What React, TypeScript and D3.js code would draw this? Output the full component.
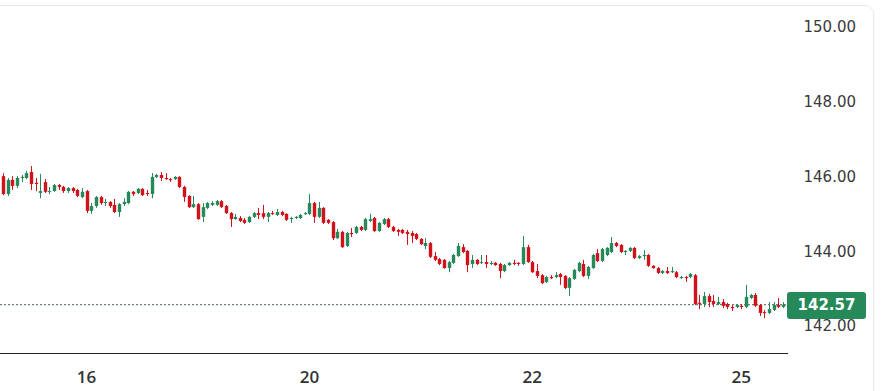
import React, { useRef, useEffect } from "react";
import * as d3 from "d3";

// OHLC, one entry per candle
const opens = [
  146.01, 145.53, 145.91, 145.75, 145.96, 145.96, 146.12, 145.83, 145.56, 145.85,
  145.59, 145.61, 145.77, 145.72, 145.61, 145.69, 145.64, 145.45, 145.61, 145.08,
  145.21, 145.45, 145.29, 145.32, 145.24, 145.05, 145.26, 145.29, 145.59, 145.56,
  145.67, 145.56, 145.53, 145.99, 146.04, 145.96, 145.93, 145.93, 145.99, 145.72,
  145.48, 145.18, 145.26, 144.92, 145.16, 145.24, 145.24, 145.34, 145.21, 145.02,
  144.86, 144.89, 144.84, 144.78, 144.92, 145.02, 145.02, 144.92, 145.02, 144.97,
  145.05, 145.00, 144.86, 144.89, 144.89, 145.00, 145.00, 145.29, 144.92, 145.16,
  144.84, 144.78, 144.35, 144.52, 144.14, 144.49, 144.49, 144.65, 144.57, 144.81,
  144.89, 144.54, 144.73, 144.86, 144.65, 144.57, 144.57, 144.52, 144.49, 144.46,
  144.33, 144.14, 144.22, 143.87, 143.79, 143.77, 143.55, 143.69, 143.87, 144.11,
  144.01, 143.66, 143.77, 143.69, 143.71, 143.66, 143.69, 143.66, 143.47, 143.63,
  143.69, 143.69, 143.66, 144.11, 143.71, 143.47, 143.36, 143.18, 143.31, 143.31,
  143.39, 143.34, 143.02, 143.26, 143.47, 143.66, 143.34, 143.55, 143.95, 143.74,
  143.90, 143.98, 144.22, 144.17, 143.98, 144.01, 144.09, 143.82, 143.87, 143.90,
  143.61, 143.55, 143.42, 143.47, 143.44, 143.44, 143.28, 143.31, 143.31, 143.36,
  142.62, 142.59, 142.80, 142.67, 142.59, 142.64, 142.59, 142.51, 142.51, 142.54,
  142.51, 142.75, 142.83, 142.56, 142.37, 142.35, 142.43, 142.56, 142.51,
];
const highs = [
  146.09, 145.96, 146.01, 146.01, 146.04, 146.15, 146.28, 145.96, 146.07, 145.93,
  145.72, 145.80, 145.80, 145.75, 145.72, 145.72, 145.67, 145.69, 145.64, 145.29,
  145.48, 145.48, 145.40, 145.34, 145.40, 145.29, 145.42, 145.61, 145.61, 145.69,
  145.69, 145.64, 146.09, 146.07, 146.12, 146.09, 145.96, 146.01, 146.01, 145.75,
  145.50, 145.48, 145.29, 145.29, 145.32, 145.34, 145.37, 145.37, 145.24, 145.05,
  145.00, 144.94, 144.89, 144.94, 145.05, 145.16, 145.24, 145.05, 145.08, 145.13,
  145.08, 145.02, 144.92, 144.94, 145.00, 145.05, 145.53, 145.32, 145.32, 145.18,
  144.86, 144.81, 144.60, 144.54, 144.52, 144.62, 144.68, 144.68, 144.89, 145.00,
  144.92, 144.78, 144.89, 144.89, 144.68, 144.60, 144.60, 144.57, 144.54, 144.49,
  144.35, 144.35, 144.25, 143.98, 143.82, 143.79, 143.74, 143.93, 144.22, 144.19,
  144.03, 143.90, 143.79, 143.90, 143.90, 143.74, 143.71, 143.69, 143.66, 143.71,
  143.77, 143.71, 144.41, 144.17, 143.74, 143.66, 143.39, 143.34, 143.36, 143.44,
  143.42, 143.36, 143.31, 143.53, 143.71, 143.77, 143.61, 143.93, 144.06, 144.09,
  144.11, 144.38, 144.25, 144.19, 144.03, 144.11, 144.11, 143.90, 144.03, 143.93,
  143.63, 143.58, 143.50, 143.58, 143.58, 143.47, 143.34, 143.34, 143.42, 143.39,
  142.83, 142.91, 142.86, 142.83, 142.78, 142.72, 142.62, 142.56, 142.59, 142.59,
  143.10, 142.86, 142.88, 142.59, 142.43, 142.64, 142.64, 142.75, 142.64,
];
const lows = [
  145.50, 145.48, 145.64, 145.69, 145.85, 145.93, 145.64, 145.61, 145.42, 145.56,
  145.53, 145.59, 145.64, 145.56, 145.56, 145.56, 145.45, 145.42, 145.02, 145.00,
  145.16, 145.24, 145.21, 145.16, 145.02, 144.92, 145.21, 145.26, 145.48, 145.53,
  145.48, 145.48, 145.42, 145.96, 145.88, 145.91, 145.85, 145.91, 145.69, 145.32,
  145.16, 145.16, 144.84, 144.78, 145.13, 145.21, 145.21, 145.16, 145.00, 144.65,
  144.84, 144.78, 144.73, 144.76, 144.89, 144.86, 144.86, 144.78, 144.97, 144.94,
  144.94, 144.81, 144.76, 144.86, 144.86, 144.97, 144.97, 144.76, 144.89, 144.73,
  144.73, 144.30, 144.33, 144.09, 144.11, 144.38, 144.46, 144.54, 144.54, 144.78,
  144.52, 144.52, 144.70, 144.62, 144.52, 144.41, 144.46, 144.17, 144.22, 144.30,
  144.17, 144.06, 143.82, 143.74, 143.63, 143.53, 143.44, 143.66, 143.85, 143.95,
  143.44, 143.55, 143.63, 143.66, 143.55, 143.63, 143.61, 143.28, 143.44, 143.61,
  143.63, 143.61, 143.63, 143.69, 143.42, 143.28, 143.12, 143.15, 143.26, 143.28,
  143.10, 142.99, 142.80, 143.23, 143.44, 143.31, 143.26, 143.53, 143.71, 143.71,
  143.87, 143.95, 144.11, 143.95, 143.90, 143.98, 143.79, 143.79, 143.77, 143.58,
  143.53, 143.39, 143.39, 143.39, 143.42, 143.28, 143.26, 143.18, 143.28, 142.56,
  142.45, 142.51, 142.51, 142.51, 142.56, 142.48, 142.45, 142.40, 142.48, 142.45,
  142.48, 142.72, 142.51, 142.27, 142.21, 142.32, 142.40, 142.48, 142.48,
];
const closes = [
  145.53, 145.91, 145.75, 145.96, 145.99, 146.09, 145.80, 145.80, 145.61, 145.59,
  145.61, 145.77, 145.72, 145.61, 145.69, 145.61, 145.48, 145.59, 145.08, 145.21,
  145.45, 145.29, 145.32, 145.21, 145.05, 145.26, 145.32, 145.59, 145.53, 145.67,
  145.50, 145.53, 145.99, 146.04, 145.96, 145.93, 145.91, 145.99, 145.72, 145.45,
  145.18, 145.26, 144.86, 145.18, 145.29, 145.29, 145.34, 145.18, 145.02, 144.86,
  144.92, 144.81, 144.76, 144.92, 145.02, 144.97, 144.92, 145.02, 145.00, 145.05,
  144.97, 144.84, 144.89, 144.92, 144.97, 145.02, 145.29, 144.92, 145.16, 144.76,
  144.76, 144.35, 144.52, 144.11, 144.49, 144.46, 144.65, 144.57, 144.86, 144.86,
  144.54, 144.76, 144.86, 144.65, 144.54, 144.52, 144.49, 144.46, 144.41, 144.33,
  144.19, 144.22, 143.85, 143.77, 143.66, 143.55, 143.71, 143.90, 144.14, 143.98,
  143.63, 143.77, 143.66, 143.71, 143.66, 143.69, 143.63, 143.47, 143.63, 143.69,
  143.66, 143.66, 144.11, 143.71, 143.44, 143.34, 143.15, 143.31, 143.28, 143.36,
  143.31, 143.02, 143.28, 143.50, 143.69, 143.34, 143.58, 143.90, 143.74, 144.06,
  144.09, 144.22, 144.14, 143.98, 144.01, 144.09, 143.82, 143.87, 143.90, 143.61,
  143.55, 143.42, 143.47, 143.42, 143.47, 143.31, 143.31, 143.28, 143.39, 142.59,
  142.59, 142.80, 142.64, 142.59, 142.64, 142.54, 142.51, 142.48, 142.56, 142.51,
  142.78, 142.83, 142.54, 142.35, 142.35, 142.45, 142.56, 142.51, 142.57,
];

const yTicks = [142, 144, 146, 148, 150];
const xTickIndex = [18, 66, 114, 159];
const xTickLabels = ["16", "20", "22", "25"];
const lastPrice = 142.57;

const W = 883, H = 391;
const UP = "#26895a", DOWN = "#d1121b";

function Chart() {
  const ref = useRef(null);
  useEffect(() => {
    const svg = d3.select(ref.current);
    svg.selectAll("*").remove();

    const candles = opens.map((o, i) => ({ i, o, h: highs[i], l: lows[i], c: closes[i] }));

    const x = d3.scaleLinear().domain([0, candles.length - 1]).range([3, 783]);
    const y = d3.scaleLinear().domain([142, 150]).range([326, 27]);
    const bw = 3.4;

    // card border
    svg.append("path")
      .attr("d", `M0,5.5 H865 A8,8 0 0 1 873.5,13.5 V${H}`)
      .attr("fill", "none")
      .attr("stroke", "#e8e8e8");

    // last price line
    svg.append("line")
      .attr("x1", 0).attr("x2", 787)
      .attr("y1", y(lastPrice)).attr("y2", y(lastPrice))
      .attr("stroke", "#3b6b55")
      .attr("stroke-dasharray", "2,2");

    const g = svg.append("g").selectAll("g").data(candles).join("g");
    g.append("line")
      .attr("x1", (d) => Math.round(x(d.i)) + 0.5)
      .attr("x2", (d) => Math.round(x(d.i)) + 0.5)
      .attr("y1", (d) => y(d.h))
      .attr("y2", (d) => y(d.l))
      .attr("stroke", (d) => (d.c >= d.o ? UP : DOWN));
    g.append("rect")
      .attr("x", (d) => Math.round(x(d.i)) + 0.5 - bw / 2)
      .attr("width", bw)
      .attr("y", (d) => y(Math.max(d.o, d.c)))
      .attr("height", (d) => Math.max(1, Math.abs(y(d.o) - y(d.c))))
      .attr("fill", (d) => (d.c >= d.o ? UP : DOWN));

    // x axis
    svg.append("line")
      .attr("x1", 0).attr("x2", 788)
      .attr("y1", 353.5).attr("y2", 353.5)
      .attr("stroke", "#222");
    svg.append("g").selectAll("text").data(xTickIndex).join("text")
      .attr("x", (d) => x(d))
      .attr("y", 383)
      .attr("text-anchor", "middle")
      .attr("font-family", "'Open Sans', 'DejaVu Sans'")
      .attr("font-weight", 600)
      .attr("font-size", 17)
      .attr("fill", "#333")
      .text((d, i) => xTickLabels[i]);

    // y axis labels
    svg.append("g").selectAll("text").data(yTicks).join("text")
      .attr("x", 856)
      .attr("y", (d) => y(d))
      .attr("dy", "0.35em")
      .attr("text-anchor", "end")
      .attr("font-family", "'DejaVu Sans'")
      .attr("font-size", 15)
      .attr("fill", "#3a3a3a")
      .text((d) => d.toFixed(2));

    // last price tag
    svg.append("rect")
      .attr("x", 787).attr("y", 292)
      .attr("width", 79).attr("height", 27)
      .attr("rx", 3)
      .attr("fill", UP);
    svg.append("text")
      .attr("x", 826.5).attr("y", y(lastPrice) + 0.5)
      .attr("dy", "0.35em")
      .attr("text-anchor", "middle")
      .attr("font-family", "'DejaVu Sans'")
      .attr("font-weight", "bold")
      .attr("font-size", 15)
      .attr("fill", "#fff")
      .text(lastPrice.toFixed(2));

    return () => { svg.selectAll("*").remove(); };
  }, []);
  return <svg ref={ref} width={W} height={H} style={{ display: "block" }} />;
}

export default function App() {
  return (
    <div style={{ position: "fixed", left: 0, top: 0, width: W, height: H, background: "#fff" }}>
      <Chart />
    </div>
  );
}
